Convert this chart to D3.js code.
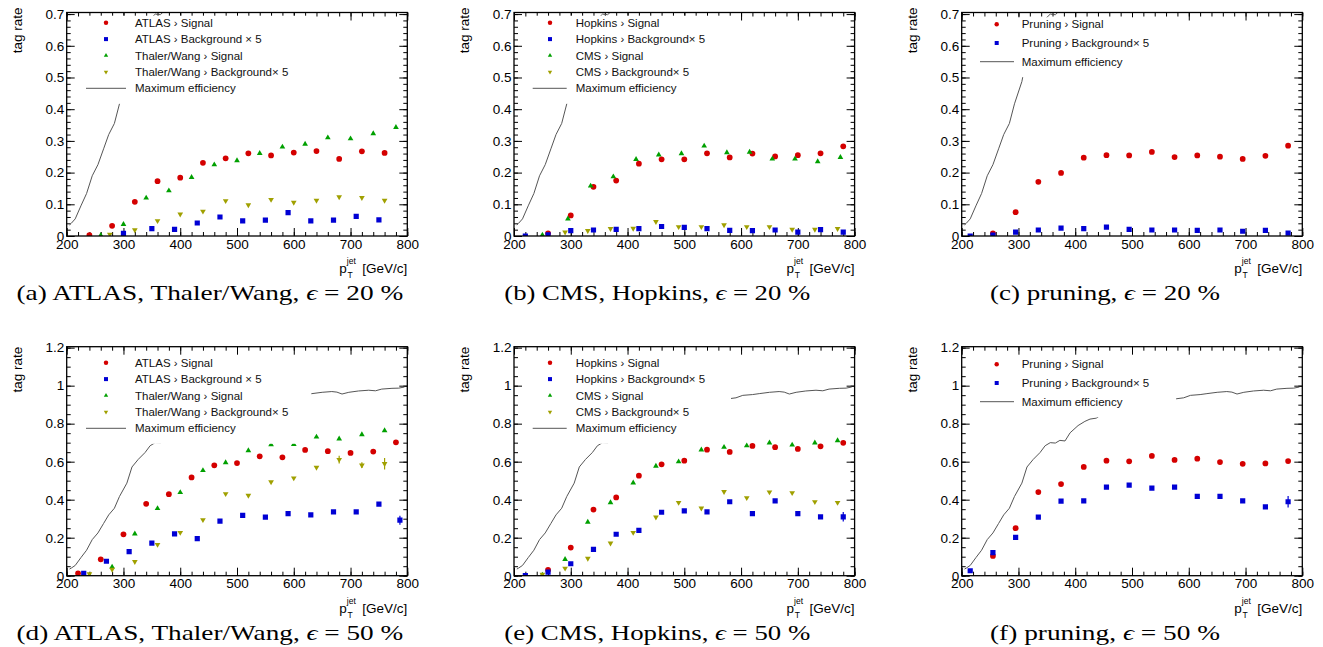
<!DOCTYPE html>
<html><head><meta charset="utf-8">
<script src="https://cdn.jsdelivr.net/npm/d3@7"></script>
<style>
body{margin:0;background:#fff;}
svg{display:block;}
</style></head><body>
<svg id="chart" width="1323" height="647"></svg>
<script>
// ---------------- DATA ----------------
const xTicks = [200, 300, 400, 500, 600, 700, 800];
const xTickLabels = ["200", "300", "400", "500", "600", "700", "800"];
const yTicksTop = [0, 0.1, 0.2, 0.3, 0.4, 0.5, 0.6, 0.7];
const yTickLabelsTop = ["0", "0.1", "0.2", "0.3", "0.4", "0.5", "0.6", "0.7"];
const yTicksBottom = [0, 0.2, 0.4, 0.6, 0.8, 1, 1.2];
const yTickLabelsBottom = ["0", "0.2", "0.4", "0.6", "0.8", "1", "1.2"];

const captions = [
  ["(a) ATLAS, Thaler/Wang, ", "20 %"],
  ["(b) CMS, Hopkins, ", "20 %"],
  ["(c) pruning, ", "20 %"],
  ["(d) ATLAS, Thaler/Wang, ", "50 %"],
  ["(e) CMS, Hopkins, ", "50 %"],
  ["(f) pruning, ", "50 %"]
];
const legendATLAS = ["ATLAS \u203A Signal", "ATLAS \u203A Background \u00D7 5", "Thaler/Wang \u203A Signal", "Thaler/Wang \u203A Background\u00D7 5", "Maximum efficiency"];
const legendCMS = ["Hopkins \u203A Signal", "Hopkins \u203A Background\u00D7 5", "CMS \u203A Signal", "CMS \u203A Background\u00D7 5", "Maximum efficiency"];
const legendPruning = ["Pruning \u203A Signal", "Pruning \u203A Background\u00D7 5", "Maximum efficiency"];

// Maximum efficiency curve [pT, rate]
const maxEff = [[205,0.035],[208,0.040],[215,0.054],[225,0.095],[235,0.134],[245,0.19],[255,0.225],[265,0.275],[274,0.32],[284,0.355],[293,0.417],[306,0.487],[315,0.572],[326,0.612],[338,0.648],[347,0.684],[356,0.700],[365,0.698],[373,0.712],[382,0.709],[391,0.752],[405,0.79],[417,0.812],[426,0.824],[437,0.829],[444,0.843],[460,0.855],[490,0.875],[520,0.895],[550,0.915],[578,0.931],[591,0.936],[603,0.949],[620,0.953],[632,0.958],[650,0.965],[667,0.969],[676,0.966],[685,0.956],[697,0.965],[714,0.972],[732,0.976],[744,0.973],[755,0.982],[773,0.986],[785,0.987],[795,0.993]];

// epsilon = 20 %  [pT, rate, (error)]
const atlasSig20 = [[240,0.003],[280,0.032],[320,0.108],[360,0.173],[400,0.184],[440,0.231],[480,0.245],[520,0.261],[560,0.254],[600,0.263],[640,0.268],[680,0.243],[720,0.267],[760,0.262]];
const atlasBkg20 = [[300,0.008],[350,0.023],[390,0.021],[430,0.041],[470,0.060],[510,0.048],[550,0.050],[590,0.074],[630,0.048],[670,0.050],[710,0.062],[750,0.051]];
const thalerSig20 = [[260,0.002],[300,0.037],[340,0.120],[380,0.143],[420,0.185],[460,0.225],[500,0.238],[540,0.261],[580,0.281],[620,0.290],[660,0.310],[700,0.307],[740,0.323],[780,0.343]];
const thalerBkg20 = [[276,0.005],[320,0.019],[360,0.048],[400,0.069],[440,0.078],[480,0.111],[520,0.098],[560,0.115],[600,0.106],[640,0.112],[680,0.123],[720,0.121],[760,0.112]];
const hopkinsSig20 = [[260,0.008],[300,0.065],[340,0.155],[380,0.175],[420,0.228],[460,0.242],[500,0.242],[540,0.261],[580,0.248],[620,0.260],[660,0.251],[700,0.255],[740,0.261],[780,0.283]];
const hopkinsBkg20 = [[220,0.000],[260,0.004],[300,0.017],[340,0.019],[380,0.021],[420,0.023],[460,0.030],[500,0.027],[540,0.023],[580,0.018],[620,0.017],[660,0.019],[700,0.012],[740,0.020],[780,0.012]];
const cmsSig20 = [[250,0.003],[295,0.054],[335,0.158],[375,0.187],[415,0.242],[455,0.256],[495,0.260],[535,0.284],[575,0.263],[615,0.265],[655,0.243],[695,0.243],[735,0.235],[775,0.248]];
const cmsBkg20 = [[290,0.012],[330,0.017],[370,0.023],[410,0.024],[450,0.045],[490,0.029],[530,0.029],[570,0.035],[610,0.029],[650,0.029],[690,0.021],[730,0.021],[770,0.023]];
const pruneSig20 = [[255,0.008],[295,0.075],[335,0.171],[375,0.199],[415,0.247],[455,0.255],[495,0.254],[535,0.265],[575,0.249],[615,0.254],[655,0.250],[695,0.243],[735,0.253],[775,0.285]];
const pruneBkg20 = [[215,0.000],[255,0.003],[295,0.012],[335,0.019],[375,0.025],[415,0.023],[455,0.028],[495,0.021],[535,0.019],[575,0.019],[615,0.018],[655,0.019],[695,0.015],[735,0.018],[775,0.009]];

// epsilon = 50 %
const atlasSig50 = [[220,0.012],[260,0.086],[300,0.218],[340,0.378],[380,0.429],[420,0.517],[460,0.581],[500,0.593],[540,0.628],[580,0.623],[620,0.662],[660,0.655],[700,0.646],[740,0.653],[780,0.702]];
const atlasBkg50 = [[230,0.012],[270,0.076],[310,0.127],[350,0.171],[390,0.220],[430,0.195],[470,0.287],[510,0.317],[550,0.308],[590,0.327],[630,0.320],[670,0.336],[710,0.336],[750,0.377],[787,0.292,0.024]];
const thalerSig50 = [[240,0.002],[280,0.046],[320,0.220],[360,0.354],[400,0.438],[440,0.554],[480,0.595],[520,0.658],[560,0.690],[600,0.691],[640,0.730],[680,0.720],[720,0.743],[760,0.764]];
const thalerBkg50 = [[240,0.009],[280,0.033],[320,0.074],[360,0.164],[400,0.227],[440,0.294],[480,0.431],[520,0.422],[560,0.493],[600,0.514],[640,0.570],[680,0.611,0.02],[720,0.582,0.015],[760,0.589,0.03]];
const hopkinsSig50 = [[260,0.030],[300,0.148],[340,0.348],[380,0.412],[420,0.526],[460,0.586],[500,0.605],[540,0.663],[580,0.651],[620,0.683],[660,0.676],[700,0.667],[740,0.681],[780,0.699]];
const hopkinsBkg50 = [[220,0.000],[260,0.019],[300,0.063],[340,0.139],[380,0.218],[420,0.238],[460,0.334],[500,0.341],[540,0.336],[580,0.389],[620,0.327],[660,0.394],[700,0.327],[740,0.310],[780,0.310,0.025]];
const cmsSig50 = [[250,0.004],[290,0.086],[330,0.282],[370,0.385],[410,0.489],[450,0.577],[490,0.600],[530,0.662],[570,0.676],[610,0.684],[650,0.699],[690,0.688],[730,0.699],[770,0.711]];
const cmsBkg50 = [[250,0.007],[290,0.039],[330,0.091],[370,0.171],[410,0.227],[450,0.308],[490,0.385],[530,0.355],[570,0.442],[610,0.410],[650,0.440],[690,0.436],[730,0.389],[770,0.385]];
const pruneSig50 = [[255,0.104],[295,0.250],[335,0.440],[375,0.482],[415,0.572],[455,0.605],[495,0.602],[535,0.630],[575,0.609],[615,0.616],[655,0.598],[695,0.589],[735,0.591],[775,0.603]];
const pruneBkg50 = [[215,0.026],[255,0.121],[295,0.202],[335,0.308],[375,0.392],[415,0.394],[455,0.466],[495,0.477],[535,0.461],[575,0.466],[615,0.417],[655,0.417],[695,0.394],[735,0.362],[775,0.389,0.03]];

// ---------------- LAYOUT / STYLE ----------------
const colors = {circle:"#d40000", square:"#0000d4", tri:"#00a000", tridown:"#a0a000"};
const colLeft = [66.7, 514, 961.7];
const frameW = 340.6;
const rows = [
  {base:0,   top:12.5,  zero:236,   ymax:0.705, ticks:yTicksTop,    labels:yTickLabelsTop,    minor:0.02, titleEnd:7.5},
  {base:340, top:346.7, zero:575.7, ymax:1.205, ticks:yTicksBottom, labels:yTickLabelsBottom, minor:0.05, titleEnd:346.7}
];
// legend geometry per column (offsets from frame left)
const legGeom = [
  {mx:39.3, l0:19.3, l1:59.3, tx:68.3, right:244.6, y0:22.7, step:16.4},
  {mx:36,   l0:18.7, l1:52.7, tx:61.7, right:217,   y0:22.7, step:16.4},
  {mx:35,   l0:18.3, l1:52.3, tx:60,   right:214.3, y0:24.3, step:18.7}
];

const panels = [
  {col:0,row:0,cap:captions[0],legend:legendATLAS,  series:[[atlasSig20,"circle"],[atlasBkg20,"square"],[thalerSig20,"tri"],[thalerBkg20,"tridown"]]},
  {col:1,row:0,cap:captions[1],legend:legendCMS,    series:[[hopkinsSig20,"circle"],[hopkinsBkg20,"square"],[cmsSig20,"tri"],[cmsBkg20,"tridown"]]},
  {col:2,row:0,cap:captions[2],legend:legendPruning,series:[[pruneSig20,"circle"],[pruneBkg20,"square"]]},
  {col:0,row:1,cap:captions[3],legend:legendATLAS,  series:[[atlasSig50,"circle"],[atlasBkg50,"square"],[thalerSig50,"tri"],[thalerBkg50,"tridown"]]},
  {col:1,row:1,cap:captions[4],legend:legendCMS,    series:[[hopkinsSig50,"circle"],[hopkinsBkg50,"square"],[cmsSig50,"tri"],[cmsBkg50,"tridown"]]},
  {col:2,row:1,cap:captions[5],legend:legendPruning,series:[[pruneSig50,"circle"],[pruneBkg50,"square"]]}
];

const SANS = "'Liberation Sans', Arial, Helvetica, sans-serif";
const SERIF = "'Liberation Serif', 'DejaVu Serif', serif";

function symbolPath(type, big){
  const s = big ? 1 : 0.6;
  if(type==="circle") return d3.symbol(d3.symbolCircle, 26*s)();
  if(type==="square") return d3.symbol(d3.symbolSquare, 27*s)();
  return d3.symbol(d3.symbolTriangle, 14*s)();
}

const svg = d3.select("#chart");
svg.append("rect").attr("width",1323).attr("height",647).attr("fill","#fff");

panels.forEach((p, pi) => {
  const r = rows[p.row];
  const L = colLeft[p.col], R = L + frameW;
  const x = d3.scaleLinear().domain([200, 800]).range([L, R]);
  const y = d3.scaleLinear().domain([0, r.ymax]).range([r.zero, r.top]);
  const g = svg.append("g");
  const clipId = "clip" + pi;
  g.append("clipPath").attr("id", clipId).append("rect")
    .attr("x", L).attr("y", r.top).attr("width", frameW).attr("height", r.zero - r.top);

  const minorX = d3.range(200, 801, 20);
  const minorY = d3.range(0, r.ymax + 1e-9, r.minor);

  // axes (ticks inward on all four sides)
  const axes = [
    [d3.axisBottom(x).tickValues(xTicks).tickSize(-8).tickPadding(3).tickFormat((d,i)=>xTickLabels[i]), `translate(0,${r.zero})`, true],
    [d3.axisBottom(x).tickValues(minorX).tickSize(-4).tickFormat(""), `translate(0,${r.zero})`, false],
    [d3.axisTop(x).tickValues(xTicks).tickSize(-8).tickFormat(""), `translate(0,${r.top})`, false],
    [d3.axisTop(x).tickValues(minorX).tickSize(-4).tickFormat(""), `translate(0,${r.top})`, false],
    [d3.axisLeft(y).tickValues(r.ticks).tickSize(-8).tickPadding(2.5).tickFormat((d,i)=>r.labels[i]), `translate(${L},0)`, true],
    [d3.axisLeft(y).tickValues(minorY).tickSize(-4).tickFormat(""), `translate(${L},0)`, false],
    [d3.axisRight(y).tickValues(r.ticks).tickSize(-8).tickFormat(""), `translate(${R},0)`, false],
    [d3.axisRight(y).tickValues(minorY).tickSize(-4).tickFormat(""), `translate(${R},0)`, false]
  ];
  axes.forEach(([ax, tr]) => {
    const a = g.append("g").attr("transform", tr).call(ax);
    a.select(".domain").remove();
    a.attr("font-family", SANS).attr("font-size", 13.5);
    a.selectAll("line").attr("stroke", "#000").attr("stroke-width", 1);
    a.selectAll("text").attr("fill", "#000");
  });

  // data
  const plot = g.append("g").attr("clip-path", `url(#${clipId})`);
  plot.append("path").datum(maxEff)
    .attr("d", d3.line().x(d => x(d[0])).y(d => y(d[1])))
    .attr("fill", "none").attr("stroke", "#555").attr("stroke-width", 1);

  p.series.forEach(([data, type]) => {
    const col = colors[type];
    plot.selectAll(null).data(data.filter(d => d[2])).enter().append("line")
      .attr("x1", d => x(d[0])).attr("x2", d => x(d[0]))
      .attr("y1", d => y(d[1] - d[2])).attr("y2", d => y(d[1] + d[2]))
      .attr("stroke", col).attr("stroke-width", 1.2);
    plot.selectAll(null).data(data).enter().append("path")
      .attr("d", symbolPath(type, true))
      .attr("transform", d => `translate(${x(d[0])},${y(d[1])})${type==="tridown" ? " rotate(180)" : ""}`)
      .attr("fill", col);
  });

  // legend
  const lg = legGeom[p.col];
  const nRows = p.legend.length;
  const rowY = i => r.base + lg.y0 + i * lg.step;
  g.append("rect")
    .attr("x", L + lg.l0 - 4).attr("y", rowY(0) - 7)
    .attr("width", lg.right - lg.l0 + 4).attr("height", rowY(nRows - 1) + 15.5 - (rowY(0) - 7))
    .attr("fill", "#fff");
  const legTypes = p.series.map(s => s[1]);
  p.legend.forEach((label, i) => {
    const yy = rowY(i);
    if (i < legTypes.length) {
      const t = legTypes[i];
      g.append("path").attr("d", symbolPath(t, false))
        .attr("transform", `translate(${L + lg.mx},${yy})${t==="tridown" ? " rotate(180)" : ""}`)
        .attr("fill", colors[t]);
    } else {
      g.append("line").attr("x1", L + lg.l0).attr("x2", L + lg.l1)
        .attr("y1", yy).attr("y2", yy).attr("stroke", "#555").attr("stroke-width", 1);
    }
    g.append("text").attr("x", L + lg.tx).attr("y", yy).attr("dy", "0.36em")
      .attr("font-family", SANS).attr("font-size", 11.5).attr("fill", "#111").text(label);
  });

  // frame
  g.append("rect").attr("x", L).attr("y", r.top).attr("width", frameW).attr("height", r.zero - r.top)
    .attr("fill", "none").attr("stroke", "#000").attr("stroke-width", 1.3);

  // y title
  g.append("text").attr("transform", `translate(${L - 45},${r.titleEnd}) rotate(-90)`)
    .attr("text-anchor", "end").attr("font-family", SANS).attr("font-size", 13.5).text("tag rate");

  // x title
  const xt = g.append("g").attr("font-family", SANS).attr("fill", "#000");
  xt.append("text").attr("x", R).attr("y", r.zero + 37.3).attr("text-anchor", "end").attr("font-size", 13.5).text("[GeV/c]");
  xt.append("text").attr("x", R - 68).attr("y", r.zero + 37.3).attr("font-size", 13.5).text("p");
  xt.append("text").attr("x", R - 60.5).attr("y", r.zero + 28).attr("font-size", 8.5).text("jet");
  xt.append("text").attr("x", R - 59.8).attr("y", r.zero + 42.3).attr("font-size", 8.5).text("T");

  // caption
  const capX = (L + R) / 2 - 27;
  const capW = [387, 306, 230][p.col];
  const capG = g.append("g");
  const capT = capG.append("text").attr("font-family", SERIF).attr("font-size", 21).attr("fill", "#000");
  capT.append("tspan").text(p.cap[0]);
  capT.append("tspan").attr("font-style", "italic").text("\u03F5");
  capT.append("tspan").text(" = " + p.cap[1]);
  const nat = capT.node().getComputedTextLength();
  const sx = capW / nat;
  capG.attr("transform", `translate(${capX - capW / 2},${r.base + 299.5}) scale(${sx},1)`);
});
</script>
</body></html>
